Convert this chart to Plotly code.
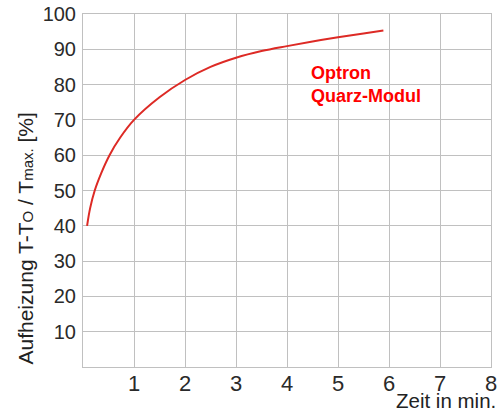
import plotly.graph_objects as go

# Data
time_min = [0.08, 0.14, 0.23, 0.36, 0.52, 0.73, 1.0, 1.5, 2.0, 2.5, 3.0, 3.5, 4.0, 4.5, 5.0, 5.5, 5.89]
heating_pct = [40, 45, 50, 55, 60, 65, 70, 76.4, 81.3, 85.0, 87.6, 89.5, 90.9, 92.2, 93.4, 94.5, 95.3]
x_ticks = [1, 2, 3, 4, 5, 6, 7, 8]
y_ticks = [10, 20, 30, 40, 50, 60, 70, 80, 90, 100]

FONT = "Liberation Sans, Arial, sans-serif"

fig = go.Figure()
fig.add_trace(go.Scatter(
    x=time_min, y=heating_pct, mode="lines",
    line=dict(color="#dd2a25", width=2, shape="spline", smoothing=1.0),
    hoverinfo="skip", showlegend=False,
))

fig.add_annotation(
    x=4.43, y=80, xref="x", yref="y",
    text="<b>Optron<br>Quarz-Modul</b>", showarrow=False,
    xanchor="left", yanchor="middle", align="left",
    font=dict(family=FONT, size=18, color="#ff0000"),
)
fig.add_annotation(
    x=1, y=0, xref="paper", yref="paper", xshift=7, yshift=-20,
    text="Zeit in min.", showarrow=False, xanchor="right", yanchor="top",
    font=dict(family=FONT, size=20.5, color="#222222"),
)
fig.add_annotation(
    x=0, y=0.364, xref="paper", yref="paper", xshift=-57,
    text="Aufheizung T-T<span style='font-size:15px'>O</span> / T<span style='font-size:15px'>max.</span> [%]",
    textangle=-90, showarrow=False, xanchor="center", yanchor="middle",
    font=dict(family=FONT, size=21, color="#222222"),
)

common = dict(
    showgrid=True, gridcolor="#c0c0c0", gridwidth=1,
    showline=True, linecolor="#c0c0c0", linewidth=1, mirror=True,
    zeroline=False, ticks="", automargin=False,
    fixedrange=True,
)
fig.update_xaxes(range=[0, 8], tickvals=x_ticks, ticktext=[str(v) for v in x_ticks],
                 ticklabelstandoff=-3,
                 tickfont=dict(family=FONT, size=22, color="#2a2a2a"), **common)
fig.update_yaxes(range=[0, 100], tickvals=y_ticks, ticktext=[str(v) for v in y_ticks],
                 ticklabelstandoff=2,
                 tickfont=dict(family=FONT, size=20, color="#2a2a2a"), **common)

fig.update_layout(
    width=499, height=412,
    margin=dict(l=83, r=8, t=14, b=45, autoexpand=False),
    paper_bgcolor="white", plot_bgcolor="white",
)

fig.write_html("out.html", config={"displayModeBar": False},
               post_script="document.body.style.margin='0';")
